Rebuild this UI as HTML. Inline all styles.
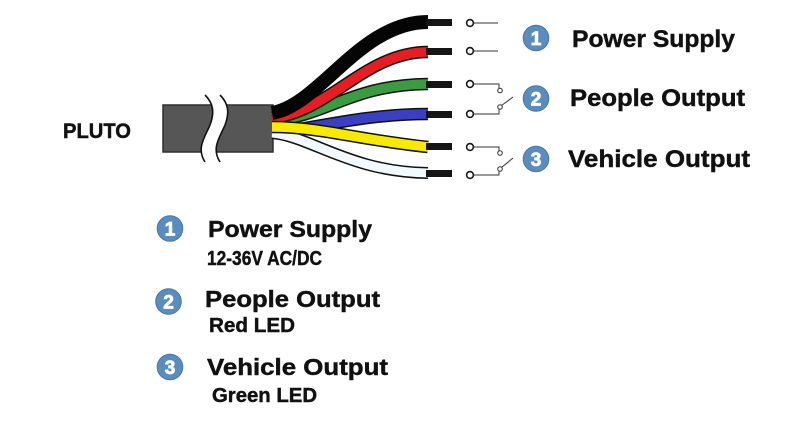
<!DOCTYPE html>
<html>
<head>
<meta charset="utf-8">
<style>
  html,body{margin:0;padding:0;background:#fff;}
  svg{display:block;}
  text{font-family:"Liberation Sans",Arial,sans-serif;font-weight:bold;fill:#111;stroke:#111;stroke-width:0.45;}
  .d{fill:#fff;stroke:#fff;stroke-width:0.8;font-size:19px;}
</style>
</head>
<body>
<svg width="800" height="424" viewBox="0 0 800 424" xmlns="http://www.w3.org/2000/svg">
  <rect width="800" height="424" fill="#fff"/>

  <!-- PLUTO label -->
  <text x="63" y="138" font-size="21" textLength="68" lengthAdjust="spacingAndGlyphs">PLUTO</text>

  <!-- Cable body -->
  <rect x="163" y="105" width="110" height="47" fill="#565656" stroke="#2e2e2e" stroke-width="1.5"/>
  <!-- Break -->
  <path d="M205,95 C213,103 215,112 210,125 C205,137 196,148 205,162 L220,162 C211,148 220,137 225,125 C230,112 228,103 220,95 Z" fill="#fff"/>
  <path d="M205,95 C213,103 215,112 210,125 C205,137 196,148 205,162" fill="none" stroke="#111" stroke-width="1.6"/>
  <path d="M220,95 C228,103 230,112 225,125 C220,137 211,148 220,162" fill="none" stroke="#111" stroke-width="1.6"/>

  <!-- Wires -->
  <g fill="none" stroke-linecap="butt">
    <!-- white -->
    <path d="M272,133 C310,136 350,172 428,173" stroke="#111" stroke-width="12"/>
    <path d="M272,133 C310,136 350,172 428,173" stroke="#f2f9ff" stroke-width="9"/>
    <!-- blue -->
    <path d="M300,129 C340,122 380,114 428,114" stroke="#111" stroke-width="12.5"/>
    <path d="M300,129 C340,122 380,114 428,114" stroke="#3b3fc4" stroke-width="9.5"/>
    <!-- green -->
    <path d="M272,121 C330,115 350,85 428,84" stroke="#111" stroke-width="12.5"/>
    <path d="M272,121 C330,115 350,85 428,84" stroke="#3a9b40" stroke-width="9.5"/>
    <!-- red -->
    <path d="M272,118 C330,112 365,52 428,52" stroke="#111" stroke-width="12.5"/>
    <path d="M272,118 C330,112 365,52 428,52" stroke="#e61e24" stroke-width="9.5"/>
    <!-- black -->
    <path d="M272,113 C320,105 360,22 428,22" stroke="#050505" stroke-width="14"/>
    <!-- yellow -->
    <path d="M272,127 C320,127 360,140 428,147" stroke="#111" stroke-width="12.5"/>
    <path d="M272,127 C320,127 360,140 428,147" stroke="#f7ea00" stroke-width="9.5"/>
  </g>

  <!-- Terminals -->
  <g fill="#151515">
    <rect x="426" y="19" width="26" height="7"/>
    <rect x="426" y="48" width="26" height="7"/>
    <rect x="426" y="81" width="26" height="7"/>
    <rect x="426" y="111" width="26" height="7"/>
    <rect x="426" y="143" width="26" height="7"/>
    <rect x="426" y="170" width="26" height="7"/>
  </g>

  <!-- Contacts -->
  <g fill="none" stroke="#333" stroke-width="1">
    <line x1="474" y1="23" x2="498" y2="23"/>
    <line x1="474" y1="51" x2="498" y2="51"/>
    <polyline points="474,84 499,84 499,88"/>
    <polyline points="474,114 499,114 499,109"/>
    <line x1="501.5" y1="105.5" x2="513" y2="97"/>
    <polyline points="474,147 499,147 499,151"/>
    <polyline points="474,175 499,175 499,171"/>
    <line x1="501.5" y1="167.5" x2="513" y2="158"/>
  </g>
  <g fill="#fff" stroke="#1a1a1a" stroke-width="1.6">
    <circle cx="470" cy="23" r="3.4"/>
    <circle cx="470" cy="51" r="3.4"/>
    <circle cx="470" cy="84" r="3.4"/>
    <circle cx="470" cy="114" r="3.4"/>
    <circle cx="470" cy="147" r="3.4"/>
    <circle cx="470" cy="175" r="3.4"/>
  </g>
  <g fill="#fff" stroke="#333" stroke-width="1">
    <circle cx="500" cy="90.5" r="2.3"/>
    <circle cx="500" cy="107" r="2.3"/>
    <circle cx="500" cy="153" r="2.3"/>
    <circle cx="500" cy="169" r="2.3"/>
  </g>

  <!-- Badges -->
  <g fill="#5a8dbe" stroke="#4676a4" stroke-width="1">
    <circle cx="536" cy="38" r="12.8"/>
    <circle cx="536" cy="98.5" r="12.8"/>
    <circle cx="536" cy="159" r="12.8"/>
    <circle cx="170" cy="228.5" r="12.8"/>
    <circle cx="168.5" cy="301.5" r="12.8"/>
    <circle cx="170" cy="367" r="12.8"/>
  </g>
  <g text-anchor="middle">
    <text class="d" x="536" y="45">1</text>
    <text class="d" x="536" y="105.5">2</text>
    <text class="d" x="536" y="166">3</text>
    <text class="d" x="170" y="235.5">1</text>
    <text class="d" x="168.5" y="308.5">2</text>
    <text class="d" x="170" y="374">3</text>
  </g>

  <!-- Right labels -->
  <text x="572" y="47" font-size="24" textLength="163" lengthAdjust="spacingAndGlyphs">Power Supply</text>
  <text x="570" y="106" font-size="24" textLength="175" lengthAdjust="spacingAndGlyphs">People Output</text>
  <text x="568" y="167" font-size="24" textLength="182" lengthAdjust="spacingAndGlyphs">Vehicle Output</text>

  <!-- Bottom legend -->
  <text x="208" y="237" font-size="23" textLength="164" lengthAdjust="spacingAndGlyphs">Power Supply</text>
  <text x="207" y="265" font-size="20" textLength="115" lengthAdjust="spacingAndGlyphs">12-36V AC/DC</text>
  <text x="205" y="307" font-size="23" textLength="175" lengthAdjust="spacingAndGlyphs">People Output</text>
  <text x="209" y="332" font-size="20" textLength="86" lengthAdjust="spacingAndGlyphs">Red LED</text>
  <text x="207" y="375" font-size="23" textLength="181" lengthAdjust="spacingAndGlyphs">Vehicle Output</text>
  <text x="212" y="402" font-size="20" textLength="105" lengthAdjust="spacingAndGlyphs">Green LED</text>
</svg>
</body>
</html>
